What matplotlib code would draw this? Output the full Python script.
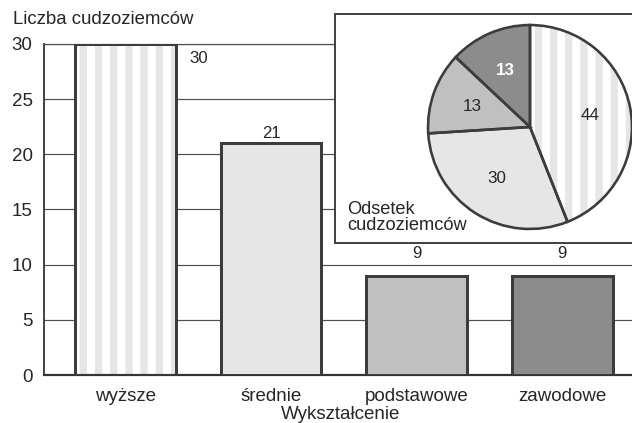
import matplotlib
matplotlib.use("Agg")
import matplotlib.pyplot as plt

# ---- data ----
categories = ["wyższe", "średnie", "podstawowe", "zawodowe"]
counts = [30, 21, 9, 9]
shares = [44, 30, 13, 13]
y_ticks = [0, 5, 10, 15, 20, 25, 30]
y_label = "Liczba cudzoziemców"
x_label = "Wykształcenie"
inset_title = "Odsetek\ncudzoziemców"

DPI = 91
PX = 72 / DPI
plt.rcParams["font.family"] = ["Liberation Sans", "DejaVu Sans"]
plt.rcParams["hatch.linewidth"] = 7.3 * PX

TXT = "#262626"
EDGE = "#3c3c3c"
STRIPE = "#e6e6e6"
fills = ["white", "#e6e6e6", "#c0c0c0", "#8c8c8c"]

fig = plt.figure(figsize=(632 / DPI, 423 / DPI), dpi=DPI)
ax = fig.add_axes([44 / 632, 48 / 423, (638 - 44) / 632, (375 - 44) / 423])

xs = list(range(len(categories)))
w = 0.69
# striped background for first bar
ax.bar(xs[0], counts[0], width=w, color="white", edgecolor=STRIPE, hatch="|",
       linewidth=0, zorder=2)
ax.bar(xs, counts, width=w, color=["none"] + fills[1:], edgecolor=EDGE,
       linewidth=3 * PX, zorder=3)

ax.set_ylim(0, 30)
ax.set_xlim(-0.56, 3.52)
ax.set_yticks(y_ticks)
ax.set_xticks(xs)
ax.set_xticklabels(categories)
ax.tick_params(axis="both", length=0, labelsize=18.8 * PX, colors=TXT)
ax.tick_params(axis="y", pad=9)
ax.tick_params(axis="x", pad=10)
ax.yaxis.grid(True, color="#505050", linewidth=1.2 * PX, zorder=1)
ax.set_axisbelow(True)
ax.spines["right"].set_visible(False)
ax.spines["top"].set_color("#505050")
ax.spines["top"].set_linewidth(1.2 * PX)
ax.spines["left"].set_color("#333333")
ax.spines["left"].set_linewidth(1.8 * PX)
ax.spines["bottom"].set_color("#333333")
ax.spines["bottom"].set_linewidth(2.2 * PX)

# value labels
offsets = [(0.5, -1.3), (0, 0.9), (0, 2.05), (0, 2.05)]
for x, v, (dx, dy) in zip(xs, counts, offsets):
    ax.text(x + dx, v + dy, str(v), ha="center", va="center",
            fontsize=16.8 * PX, color=TXT)

ax.set_xlabel(x_label, fontsize=18.8 * PX, color=TXT, labelpad=1)
fig.text(13 / 632, 1 - 20 / 423, y_label, ha="left", va="center",
         fontsize=18.6 * PX, color=TXT)

# inset box
box = fig.add_axes([335 / 632, (423 - 243) / 423, 0.5, (243 - 14) / 423])
box.set_xticks([])
box.set_yticks([])
box.set_facecolor("white")
for s in box.spines.values():
    s.set_color("#444444")
    s.set_linewidth(2 * PX)
box.text(12 / 316, 0.04, inset_title, transform=box.transAxes, ha="left",
         va="bottom", fontsize=18.3 * PX, color=TXT, linespacing=0.88)

# pie
pax = fig.add_axes([426 / 632, (423 - 231) / 423, 208 / 632, 208 / 423])
pie_cols = ["white", "#e6e6e6", "#c0c0c0", "#8c8c8c"]
wedges, _, autotexts = pax.pie(shares, colors=pie_cols, startangle=90,
                               counterclock=False, autopct="%.0f",
                               pctdistance=0.6,
                               wedgeprops=dict(linewidth=0),
                               textprops=dict(fontsize=17 * PX, color=TXT))
wedges[0].set_edgecolor(STRIPE)
wedges[0].set_hatch("|")
pax.pie(shares, colors=["none"] * 4, startangle=90, counterclock=False,
        wedgeprops=dict(linewidth=2.6 * PX, edgecolor=EDGE))
autotexts[3].set_color("white")
autotexts[3].set_fontweight("bold")
pax.set_xlim(-1.02, 1.02)
pax.set_ylim(-1.02, 1.02)
pax.set_aspect("equal")

fig.savefig("out.png", dpi=DPI)
